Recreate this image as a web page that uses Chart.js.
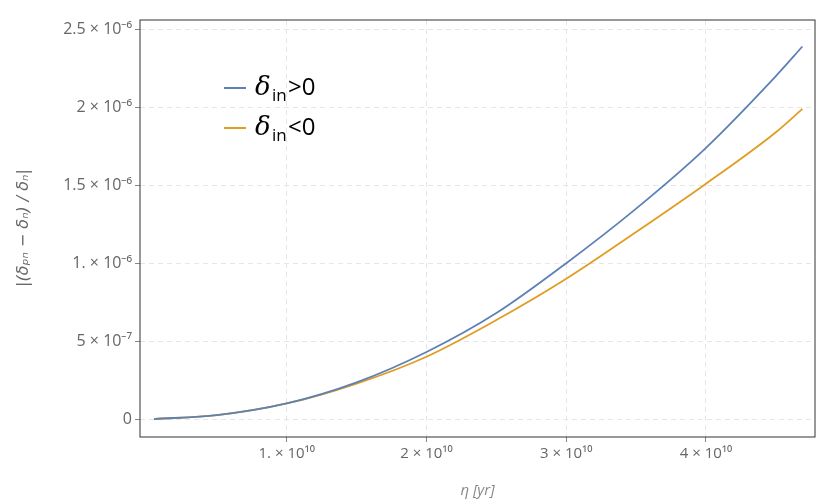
<!DOCTYPE html>
<html>
<head>
<script src="https://cdn.jsdelivr.net/npm/chart.js"></script>
<style>
  body { margin: 0; background: #fff; }
  #wrap { width: 831px; height: 504px; }
</style>
</head>
<body>
<div id="wrap"><canvas id="chart"></canvas></div>
<script>
const eta = [0.05e10, 0.5e10, 1e10, 1.5e10, 2e10, 2.5e10, 3e10, 3.5e10, 4e10, 4.5e10, 4.69e10];
const posValues = [0, 2.5e-8, 1.0e-7, 2.35e-7, 4.3e-7, 6.8e-7, 1.0e-6, 1.35e-6, 1.74e-6, 2.2e-6, 2.39e-6];
const negValues = [0, 2.5e-8, 1.0e-7, 2.28e-7, 4.0e-7, 6.35e-7, 0.9e-6, 1.2e-6, 1.51e-6, 1.84e-6, 1.99e-6];
const xTicks = [1e10, 2e10, 3e10, 4e10];
const yTicks = [0, 5e-7, 1e-6, 1.5e-6, 2e-6, 2.5e-6];
const seriesNames = ['>0', '<0'];
const colors = ['#5e81b5', '#e19c24'];

const sup = s => s.replace(/-/g, '⁻').replace(/\d/g, d => '⁰¹²³⁴⁵⁶⁷⁸⁹'[d]);
function sci(v) {
  if (v === 0) return '0';
  const e = Math.floor(Math.log10(Math.abs(v)) + 1e-9);
  const m = +(v / Math.pow(10, e)).toFixed(2);
  return (m === 1 ? '1.' : m) + ' × 10' + sup(String(e));
}

const frame = {
  id: 'frame',
  afterDraw(chart) {
    const { ctx, chartArea: a } = chart;
    ctx.save();
    ctx.strokeStyle = '#333';
    ctx.lineWidth = 1;
    ctx.strokeRect(a.left, a.top, a.right - a.left, a.bottom - a.top);
    // legend
    seriesNames.forEach((n, i) => {
      const y = 88 + i * 40;
      ctx.strokeStyle = colors[i];
      ctx.lineWidth = 2;
      ctx.beginPath(); ctx.moveTo(224, y); ctx.lineTo(246, y); ctx.stroke();
      ctx.fillStyle = '#000';
      ctx.textBaseline = 'middle';
      ctx.font = 'italic 26px "DejaVu Serif"';
      ctx.fillText('δ', 255, y);
      ctx.font = '17px "Open Sans"';
      ctx.fillText('in', 272, y + 8);
      ctx.font = '24px "Open Sans"';
      ctx.fillText(n, 288, y);
    });
    // y title
    ctx.fillStyle = '#666';
    ctx.translate(24, 228);
    ctx.rotate(-Math.PI / 2);
    ctx.textAlign = 'center';
    ctx.font = 'italic 16px "DejaVu Sans"';
    ctx.fillText('|(δₚₙ − δₙ) / δₙ|', 0, 0);
    ctx.restore();
  }
};

const gridOpts = { color: '#e6e6e6', tickLength: 5, tickColor: '#888' };

new Chart(document.getElementById('chart'), {
  type: 'scatter',
  data: {
    datasets: seriesNames.map((n, i) => ({
      label: 'δin' + n,
      data: eta.map((x, k) => ({ x, y: (i ? negValues : posValues)[k] })),
      showLine: true,
      borderColor: colors[i],
      borderWidth: 1.8,
      pointRadius: 0,
      cubicInterpolationMode: 'monotone'
    }))
  },
  options: {
    responsive: true,
    maintainAspectRatio: false,
    animation: false,
    layout: { padding: { top: 20, right: 16, bottom: 0, left: 0 } },
    plugins: { legend: { display: false }, tooltip: { enabled: false } },
    scales: {
      x: {
        type: 'linear', min: -0.05e10, max: 4.78e10,
        afterBuildTicks: s => { s.ticks = xTicks.map(v => ({ value: v })); },
        afterFit: s => { s.height = 67; },
        border: { display: false, dash: [5, 4] },
        grid: gridOpts,
        ticks: { color: '#666', font: { family: 'Open Sans', size: 15 }, callback: v => sci(v) },
        title: { display: true, text: 'η [yr]', color: '#888', font: { family: 'Open Sans', size: 15, style: 'italic' }, padding: { top: 12 } }
      },
      y: {
        min: -0.115e-6, max: 2.56e-6,
        afterBuildTicks: s => { s.ticks = yTicks.map(v => ({ value: v })); },
        afterFit: s => { s.width = 140; },
        border: { display: false, dash: [5, 4] },
        grid: gridOpts,
        ticks: { color: '#666', font: { family: 'Open Sans', size: 16 }, callback: v => sci(v) }
      }
    }
  },
  plugins: [frame]
});
</script>
</body>
</html>
